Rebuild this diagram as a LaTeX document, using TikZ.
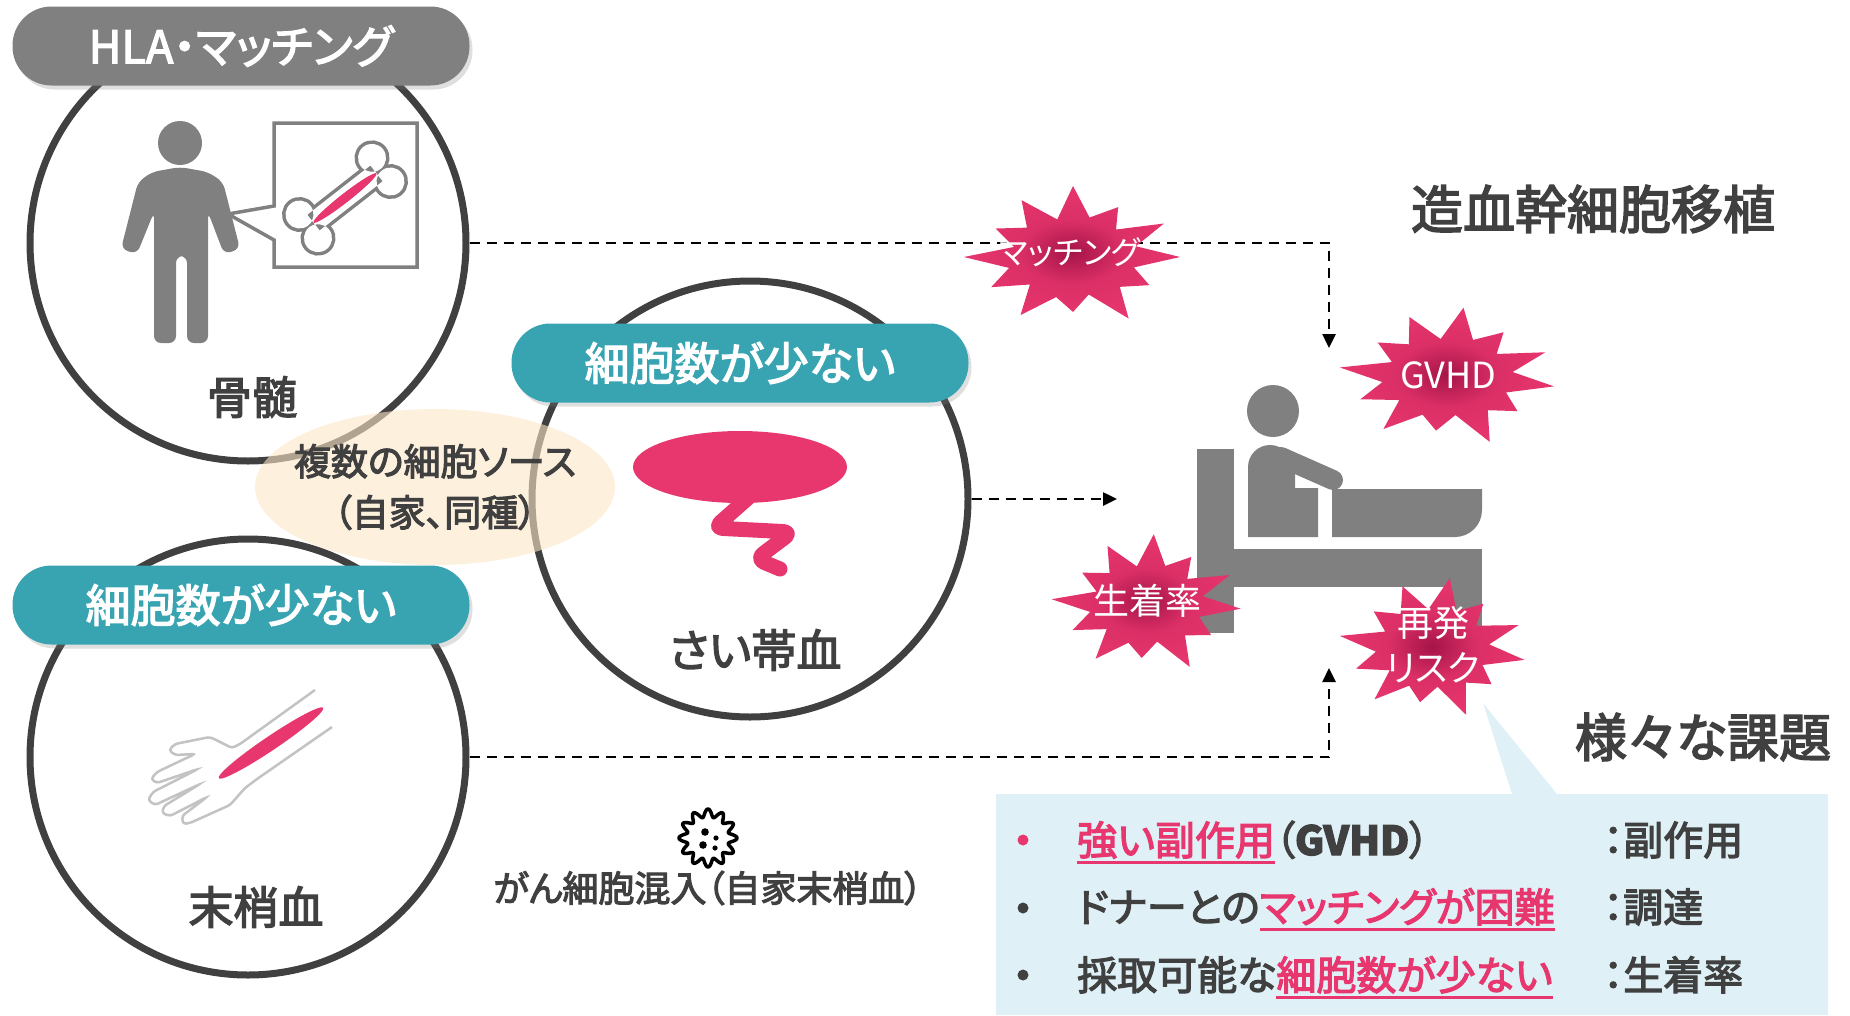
\documentclass[tikz,border=0pt]{standalone}
\usepackage{fontspec}
\setmainfont{Noto Sans CJK JP}[RawFeature=+palt, FakeBold=3]
\newfontfamily\thinjp{Noto Sans CJK JP}[RawFeature=+palt]
\usepackage{tikz}
\usetikzlibrary{positioning,arrows.meta,shapes.geometric,shadows,calc}

\definecolor{ink}{RGB}{64,64,64}
\definecolor{figgray}{RGB}{128,128,128}
\definecolor{handgray}{RGB}{195,195,195}
\definecolor{cellteal}{RGB}{56,164,178}
\definecolor{accent}{RGB}{232,54,110}
\definecolor{sourcetan}{RGB}{252,232,200}
\definecolor{issuebg}{RGB}{223,241,246}
\definecolor{burstdark}{RGB}{165,20,72}
\definecolor{burstlight}{RGB}{238,112,154}
\colorlet{burstmid}{accent!80!burstdark}

\pgfdeclareradialshading{burstshade}{\pgfpoint{0bp}{0bp}}{color(0bp)=(burstdark); color(12bp)=(burstmid); color(26bp)=(accent); color(50bp)=(burstlight)}

% pink text with a pink rule under it
\newcommand{\markissue}[1]{\textcolor{accent}{\setbox0=\hbox{#1}\rlap{\rule[-0.22em]{\wd0}{2.5pt}}\box0}}

% irregular star: centre, x radius, y radius, turn
\newcommand{\burst}[4]{%
  \shade[shading=burstshade, shift={(#1)}, xscale=#2, yscale=#3]
    (#4:1.02) \foreach \ang/\rr in {15/0.6,30/0.84,45/0.63,60/1.06,75/0.58,90/0.82,105/0.62,120/1,135/0.58,150/0.9,165/0.63,180/1.04,195/0.58,210/0.85,225/0.62,240/0.98,255/0.58,270/1.06,285/0.61,300/0.86,315/0.58,330/1,345/0.62}
    { -- ({\ang+#4}:\rr) } -- cycle;
}

\begin{document}
\begin{tikzpicture}[x=1pt, y=-1pt,
    sourcering/.style={circle, draw=ink, line width=7pt, fill=white, minimum size=436pt, inner sep=0pt},
    pill/.style={rectangle, rounded corners=39pt, minimum width=457pt, minimum height=79pt, inner sep=0pt,
      text=white, font=\fontsize{45}{48}\selectfont,
      drop shadow={opacity=0.25, shadow xshift=3pt, shadow yshift=-4pt}},
    ringlabel/.style={text=ink, font=\fontsize{45}{50}\selectfont},
    flow/.style={dash pattern=on 10pt off 7pt, line width=2.5pt, -{Triangle[length=14pt, width=13pt]}},
    bursttext/.style={text=white, font=\thinjp\fontsize{36}{45}\selectfont, align=center, inner sep=0pt},
    listtext/.style={anchor=base west, text=ink, font=\fontsize{40}{44}\selectfont, inner sep=0pt},
    title/.style={text=ink, font=\fontsize{52}{56}\selectfont}]
  \useasboundingbox (0,0) rectangle (1850,1015);

  % Cell sources
  \node[sourcering] (marrow) at (248,243) {};
  \node[sourcering] (cord) at (750,499) {};
  \node[sourcering] (blood) at (248,757) {};

  % Several sources
  \fill[sourcetan, opacity=0.6] (435,487) ellipse (180 and 78);
  \node[text=ink, align=center, font=\fontsize{37}{51}\selectfont] (multisource) at (435,487) {複数の細胞ソース\\（自家、同種）};

  % Tags
  \node[pill, fill=figgray] (hla) at (241,46) {HLA・マッチング};
  \node[pill, fill=cellteal] (fewcord) at (740,363) {細胞数が少ない};
  \node[pill, fill=cellteal] (fewblood) at (241,605) {細胞数が少ない};

  % Bone marrow: callout with bone
  \filldraw[fill=white, draw=figgray, line width=3.5pt] (274,206) -- (274,123) -- (417,123) -- (417,267) -- (274,267) -- (274,240) -- (228,214) -- cycle;
  \begin{scope}[shift={(345,198)}, rotate=38]
    \draw[figgray, line width=7pt] (-46,-15) circle (14) (-46,15) circle (14) (46,-15) circle (14) (46,15) circle (14) (-40,-10) rectangle (40,10);
    \fill[white] (-46,-15) circle (14) (-46,15) circle (14) (46,-15) circle (14) (46,15) circle (14) (-40,-10) rectangle (40,10);
    \fill[accent] (0,0) ellipse (40 and 4.5);
  \end{scope}
  % Person
  \fill[figgray] (180,143) circle (22);
  \fill[figgray, rounded corners=7] (154,343) -- (154,212) -- (137,254) -- (121,249) -- (138,182) -- (152,172) -- (180,167) -- (208,172) -- (223,182) -- (240,249) -- (224,254) -- (208,212) -- (208,343) -- (187,343) -- (187,256) -- (176,256) -- (176,343) -- cycle;
  \node[ringlabel] (marrowlabel) at (252,397) {骨髄};

  % Umbilical cord blood
  \fill[accent] (740,467) ellipse (107 and 36);
  \draw[accent, line width=15pt, line cap=round, line join=round, rounded corners=9] (748,498) -- (714,528) -- (792,532) -- (756,559) -- (780,569);
  \node[ringlabel] (cordlabel) at (755,650) {さい帯血};

  % Peripheral blood: hand and forearm
  \draw[handgray, line width=2.5pt, rounded corners=3] (315,690) -- (240,744) -- (232,748) -- (210,737) -- (175,744) -- (169,750) -- (175,755) -- (195,754) -- (157,772) -- (151,779) -- (157,783) -- (198,769) -- (153,792) -- (148,800) -- (155,805) -- (200,784) -- (164,806) -- (162,813) -- (170,816) -- (207,797) -- (182,816) -- (183,824) -- (190,823) -- (230,805) -- (245,788) -- (257,779) -- (332,727);
  \fill[accent, shift={(271,743)}, rotate=34] (0,0) ellipse (63 and 7);
  \node[ringlabel] (bloodlabel) at (256,907) {末梢血};

  % Tumour cell contamination
  \draw[line width=3.5pt, line join=round] plot[domain=0:360, samples=241, variable=\t] ({708+(25+4*cos(12*\t))*cos(\t)}, {838+(25+4*cos(12*\t))*sin(\t)}) -- cycle;
  \fill (705,832) circle (3.8) (703,845) circle (3.8) (716,838) circle (2.6) (715,848) circle (2.6);
  \node[text=ink, font=\fontsize{36}{40}\selectfont] (contam) at (708,888) {がん細胞混入（自家末梢血）};

  % Flows to the patient
  \coordinate (topturn) at (1329,243);
  \coordinate (patienttop) at (1329,348);
  \coordinate (patientleft) at (1117,499);
  \coordinate (botturn) at (1329,757);
  \coordinate (patientbottom) at (1329,668);
  \draw[flow] (marrow.east) -- (topturn) -- (patienttop);
  \draw[flow] (cord.east) -- (patientleft);
  \draw[flow] (blood.east) -- (botturn) -- (patientbottom);

  % Issue box with pointer
  \fill[issuebg] (996,794) -- (1512,794) -- (1483,703) -- (1557,794) -- (1828,794) -- (1828,1015) -- (996,1015) -- cycle;

  % Patient in bed
  \fill[figgray] (1197,449) rectangle (1234,633);
  \fill[figgray] (1234,549) rectangle (1482,587);
  \fill[figgray] (1444,587) rectangle (1482,633);
  \fill[figgray] (1273,411) circle (26);
  \fill[figgray] (1295,471) -- (1295,488) -- (1318,488) -- (1318,537) -- (1248,537) [rounded corners=22] -- (1248,445) [rounded corners=20] -- (1290,445) [sharp corners] -- cycle;
  \draw[figgray, line width=20pt, line cap=round] (1281,457) -- (1333,480);
  \fill[figgray] (1332,537) -- (1332,489) -- (1482,489) [rounded corners=27] -- (1482,537) [sharp corners] -- cycle;

  % Problems
  \burst{1073,257}{105}{67}{0}
  \node[bursttext, font=\thinjp\fontsize{32}{36}\selectfont] (matching) at (1070,252) {マッチング};
  \burst{1448,377}{105}{66}{8}
  \node[bursttext] (gvhd) at (1448,375) {GVHD};
  \burst{1147,604}{92}{66}{4}
  \node[bursttext] (engraft) at (1147,601) {生着率};
  \burst{1433,648}{91}{67}{10}
  \node[bursttext] (relapse) at (1433,645) {再発\\リスク};

  % Titles
  \node[title] (hsct) at (1593,209) {造血幹細胞移植};
  \node[title] (issues) at (1703,737) {様々な課題};

  % Issue list
  \fill[accent] (1023,840) circle (5.5);
  \fill[ink] (1023,908) circle (5.5);
  \fill[ink] (1023,975) circle (5.5);
  \node[listtext] (issue1) at (1077,855) {\markissue{強い副作用}（\textbf{GVHD}）};
  \node[listtext] (issue2) at (1077,922) {ドナーとの\markissue{マッチングが困難}};
  \node[listtext] (issue3) at (1077,990) {採取可能な\markissue{細胞数が少ない}};
  \node[listtext] (kind1) at (1603,855) {：副作用};
  \node[listtext] (kind2) at (1603,922) {：調達};
  \node[listtext] (kind3) at (1603,990) {：生着率};
\end{tikzpicture}
\end{document}
